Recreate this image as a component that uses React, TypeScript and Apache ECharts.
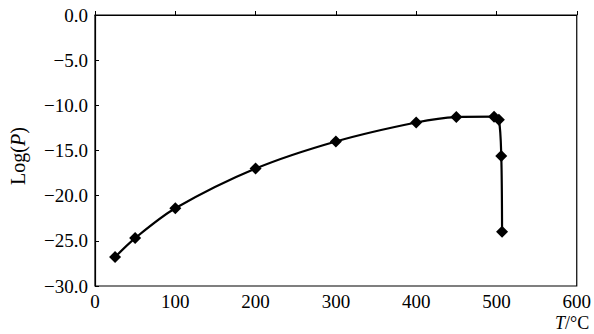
import React, { useEffect, useRef } from "react";
import * as echarts from "echarts";

const temperatures = [25, 50, 100, 200, 300, 400, 450, 497, 503, 506, 507];
const logP = [-26.8, -24.7, -21.4, -17.0, -14.0, -11.9, -11.3, -11.25, -11.6, -15.6, -24.0];
const xTicks = [0, 100, 200, 300, 400, 500, 600];
const yTicks = [0, -5, -10, -15, -20, -25, -30];

const FONT = "'Liberation Serif', 'Times New Roman', serif";

export default function App() {
  const ref = useRef<HTMLDivElement>(null);
  useEffect(() => {
    if (!ref.current) return;
    const chart = echarts.init(ref.current, undefined, { renderer: "svg" });
    const data = temperatures.map((t, i) => [t, logP[i]]);
    chart.setOption({
      animation: false,
      backgroundColor: "#fff",
      grid: {
        left: 95,
        right: 10,
        top: 15,
        bottom: 48,
        show: true,
        borderColor: "#000",
        borderWidth: 1.2,
      },
      xAxis: {
        type: "value",
        min: xTicks[0],
        max: xTicks[xTicks.length - 1],
        interval: 100,
        axisLine: { lineStyle: { color: "#000", width: 1.2 } },
        axisTick: { inside: true, length: 4, lineStyle: { color: "#000" } },
        axisLabel: { color: "#000", fontFamily: FONT, fontSize: 19, margin: 6 },
        splitLine: { show: false },
      },
      yAxis: {
        type: "value",
        min: yTicks[yTicks.length - 1],
        max: yTicks[0],
        interval: 5,
        axisLine: { lineStyle: { color: "#000", width: 1.2 } },
        axisTick: { inside: true, length: 4, lineStyle: { color: "#000" } },
        axisLabel: {
          color: "#000",
          fontFamily: FONT,
          fontSize: 19,
          margin: 7,
          formatter: (v: number) => (v < 0 ? "\u2212" + Math.abs(v).toFixed(1) : v.toFixed(1)),
        },
        splitLine: { show: false },
      },
      graphic: [
        {
          type: "text",
          x: 18,
          y: 156,
          rotation: Math.PI / 2,
          style: {
            text: "{n|Log(}{i|P}{n|)}",
            align: "center",
            verticalAlign: "middle",
            rich: {
              n: { fontFamily: FONT, fontSize: 20, fill: "#000" },
              i: { fontFamily: FONT, fontSize: 20, fill: "#000", fontStyle: "italic" },
            },
          },
        },
        {
          type: "text",
          x: 555,
          y: 314,
          style: {
            text: "{i|T}{n|/°C}",
            rich: {
              n: { fontFamily: FONT, fontSize: 18, fill: "#000" },
              i: { fontFamily: FONT, fontSize: 18, fill: "#000", fontStyle: "italic" },
            },
          },
        },
      ],
      series: [
        {
          type: "line",
          data,
          smooth: 0.3,
          symbol: "diamond",
          symbolSize: 12,
          itemStyle: { color: "#000" },
          lineStyle: { color: "#000", width: 2.2 },
        },
      ],
    });
    return () => chart.dispose();
  }, []);
  return <div ref={ref} style={{ width: 594, height: 334, position: "absolute", left: 0, top: 0 }} />;
}
